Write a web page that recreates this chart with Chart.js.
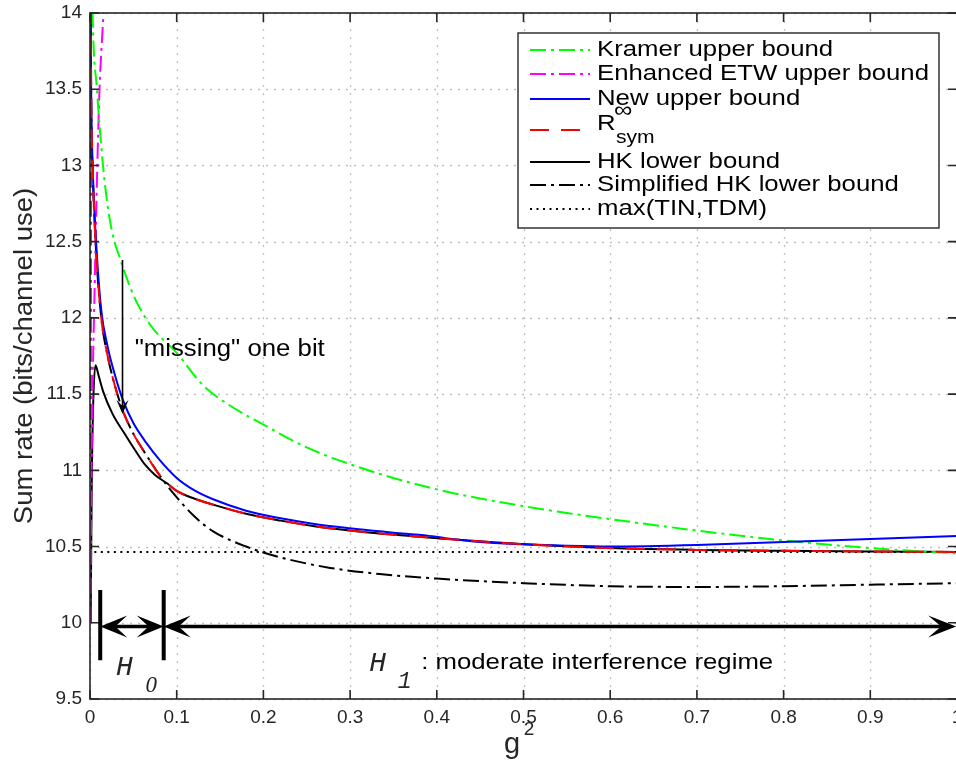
<!DOCTYPE html>
<html lang="en">
<head>
<meta charset="UTF-8">
<title>Sum rate bounds</title>
<script src="https://cdn.jsdelivr.net/npm/chart.js"></script>
<style>
  html, body { margin: 0; padding: 0; background: #fff; overflow: hidden; }
  #wrap { width: 956px; height: 763px; overflow: hidden; }
</style>
</head>
<body>
<div id="wrap"><canvas id="rateChart" width="980" height="763"></canvas></div>
<script>
// axis ticks
const xTicks = [0, 0.1, 0.2, 0.3, 0.4, 0.5, 0.6, 0.7, 0.8, 0.9, 1];
const xTickLabels = ["0", "0.1", "0.2", "0.3", "0.4", "0.5", "0.6", "0.7", "0.8", "0.9", "1"];
const yTicks = [9.5, 10, 10.5, 11, 11.5, 12, 12.5, 13, 13.5, 14];
const yTickLabels = ["9.5", "10", "10.5", "11", "11.5", "12", "12.5", "13", "13.5", "14"];

// Kramer upper bound
const kramerX = [0.0025, 0.003, 0.008, 0.015, 0.02, 0.026, 0.034, 0.05, 0.07, 0.1, 0.13, 0.16, 0.2, 0.25, 0.3, 0.35, 0.4, 0.45, 0.5, 0.55, 0.6, 0.7, 0.8, 0.9, 1.0];
const kramerY = [14.2, 14.0, 13.5, 13.0, 12.75, 12.55, 12.4, 12.15, 11.95, 11.77, 11.56, 11.43, 11.3, 11.15, 11.04, 10.95, 10.875, 10.815, 10.765, 10.72, 10.68, 10.605, 10.54, 10.49, 10.455];

// Enhanced ETW upper bound
const etwX = [0.0005, 0.001, 0.002, 0.003, 0.005, 0.008, 0.011, 0.0155, 0.017];
const etwY = [10.0, 10.5, 11.1, 11.55, 12.1, 12.9, 13.5, 14.0, 14.2];

// New upper bound
const newX = [0.0005, 0.0014, 0.003, 0.007, 0.013, 0.02, 0.028, 0.038, 0.05, 0.065, 0.08, 0.1, 0.12, 0.142, 0.18, 0.22, 0.257, 0.3, 0.334, 0.36, 0.385, 0.41, 0.45, 0.5, 0.55, 0.6, 0.7, 0.8, 0.9, 1.0];
const newY = [14.05, 13.45, 13.0, 12.5, 12.05, 11.82, 11.64, 11.46, 11.31, 11.18, 11.07, 10.95, 10.87, 10.81, 10.735, 10.685, 10.65, 10.62, 10.6, 10.585, 10.575, 10.555, 10.53, 10.515, 10.505, 10.5, 10.51, 10.53, 10.55, 10.57];

// R_sym^inf
const rsymX = [0.0005, 0.0014, 0.003, 0.007, 0.013, 0.02, 0.028, 0.038, 0.05, 0.065, 0.08, 0.09, 0.1, 0.12, 0.142, 0.18, 0.22, 0.257, 0.3, 0.334, 0.4, 0.5, 0.6, 0.7, 0.8, 0.9, 1.0];
const rsymY = [14.05, 13.43, 12.99, 12.44, 12.0, 11.76, 11.57, 11.39, 11.24, 11.1, 10.97, 10.91, 10.865, 10.815, 10.775, 10.715, 10.67, 10.635, 10.605, 10.585, 10.555, 10.515, 10.49, 10.478, 10.472, 10.468, 10.465];

// HK lower bound
const hkX = [0.0008, 0.002, 0.0035, 0.0063, 0.01, 0.015, 0.026, 0.04, 0.05, 0.063, 0.075, 0.09, 0.1, 0.12, 0.142, 0.18, 0.22, 0.257, 0.3, 0.334, 0.4, 0.5, 0.6, 0.7, 0.8, 0.9, 1.0];
const hkY = [10.0, 10.9, 11.4, 11.69, 11.62, 11.52, 11.37, 11.24, 11.15, 11.04, 10.97, 10.91, 10.865, 10.815, 10.775, 10.715, 10.67, 10.635, 10.605, 10.585, 10.555, 10.515, 10.49, 10.478, 10.472, 10.468, 10.465];

// Simplified HK lower bound
const shkX = [0.0005, 0.0009, 0.0014, 0.003, 0.007, 0.013, 0.02, 0.028, 0.038, 0.05, 0.065, 0.08, 0.096, 0.12, 0.142, 0.18, 0.219, 0.277, 0.334, 0.4, 0.5, 0.6, 0.7, 0.8, 0.9, 1.0];
const shkY = [10.0, 14.1, 13.43, 12.99, 12.44, 12.0, 11.76, 11.57, 11.39, 11.24, 11.1, 10.97, 10.85, 10.7, 10.6, 10.5, 10.43, 10.36, 10.32, 10.29, 10.26, 10.24, 10.235, 10.24, 10.25, 10.26];

// max(TIN,TDM)
const tinX = [0.005, 1.0];
const tinY = [10.465, 10.465];

const toPoints = (xs, ys) => xs.map((x, i) => ({ x: x, y: ys[i] }));

const FONT = "'Liberation Sans', Arial, Helvetica, sans-serif";
const MONO = "'Liberation Mono', 'DejaVu Sans Mono', monospace";
const SERIF = "'Liberation Serif', 'DejaVu Serif', serif";

function stretchText(ctx, str, x, y, size, sx, align) {
  ctx.save();
  ctx.font = size + "px " + FONT;
  ctx.translate(x, y);
  ctx.scale(sx, 1);
  ctx.textAlign = align || "left";
  ctx.fillText(str, 0, 0);
  ctx.restore();
}

// filled arrow head (matlab style, with a notch at the back)
function arrowHead(ctx, tx, ty, dx, dy, len, half, notch) {
  const nx = -dy, ny = dx;
  ctx.beginPath();
  ctx.moveTo(tx, ty);
  ctx.lineTo(tx - dx * len + nx * half, ty - dy * len + ny * half);
  ctx.lineTo(tx - dx * notch, ty - dy * notch);
  ctx.lineTo(tx - dx * len - nx * half, ty - dy * len - ny * half);
  ctx.closePath();
  ctx.fill();
}

const legendItems = [
  { label: "Kramer upper bound", color: "#00ff00", dash: [16, 5, 3, 5], y: 50 },
  { label: "Enhanced ETW upper bound", color: "#ff00ff", dash: [16, 5, 3, 5], y: 74 },
  { label: "New upper bound", color: "#0000ff", dash: [], y: 99 },
  { label: "R", color: "#ff0000", dash: [19, 12], y: 130, rsym: true },
  { label: "HK lower bound", color: "#000000", dash: [], y: 162 },
  { label: "Simplified HK lower bound", color: "#000000", dash: [16, 5, 3, 5], y: 185 },
  { label: "max(TIN,TDM)", color: "#000000", dash: [2, 4.5], y: 209 }
];

const framePlugin = {
  id: "matlabFrame",
  beforeDatasetsDraw(chart) {
    const { ctx, chartArea: a, scales: { x, y } } = chart;
    ctx.save();
    ctx.strokeStyle = "rgba(0,0,0,0.25)";
    ctx.lineWidth = 1.3;
    ctx.setLineDash([2, 6]);
    xTicks.forEach(v => {
      const px = Math.round(x.getPixelForValue(v)) + 0.5;
      ctx.beginPath(); ctx.moveTo(px, a.top); ctx.lineTo(px, a.bottom); ctx.stroke();
    });
    yTicks.forEach(v => {
      const py = Math.round(y.getPixelForValue(v)) + 0.5;
      ctx.beginPath(); ctx.moveTo(a.left, py); ctx.lineTo(a.right, py); ctx.stroke();
    });
    ctx.restore();
  },
  afterDatasetsDraw(chart) {
    const { ctx, chartArea: a, scales: { x, y } } = chart;
    ctx.save();

    // box and inward ticks
    ctx.strokeStyle = "#262626";
    ctx.lineWidth = 1.6;
    ctx.setLineDash([]);
    ctx.strokeRect(a.left, a.top, a.right - a.left, a.bottom - a.top);
    const tl = 9;
    xTicks.forEach(v => {
      const px = x.getPixelForValue(v);
      ctx.beginPath();
      ctx.moveTo(px, a.bottom); ctx.lineTo(px, a.bottom - tl);
      ctx.moveTo(px, a.top); ctx.lineTo(px, a.top + tl);
      ctx.stroke();
    });
    yTicks.forEach(v => {
      const py = y.getPixelForValue(v);
      ctx.beginPath();
      ctx.moveTo(a.left, py); ctx.lineTo(a.left + tl, py);
      ctx.moveTo(a.right, py); ctx.lineTo(a.right - tl, py);
      ctx.stroke();
    });

    // tick labels
    ctx.fillStyle = "#262626";
    ctx.font = "19px " + FONT;
    ctx.textAlign = "center";
    ctx.textBaseline = "middle";
    xTicks.forEach((v, i) => ctx.fillText(xTickLabels[i], x.getPixelForValue(v), a.bottom + 19));
    ctx.textAlign = "right";
    yTicks.forEach((v, i) => ctx.fillText(yTickLabels[i], a.left - 8, y.getPixelForValue(v)));

    // axis titles
    ctx.fillStyle = "#262626";
    ctx.textBaseline = "alphabetic";
    ctx.font = "29px " + FONT;
    ctx.textAlign = "center";
    ctx.fillText("g", 512, 753);
    ctx.font = "19px " + FONT;
    ctx.fillText("2", 529, 735);
    ctx.save();
    ctx.translate(32, 356);
    ctx.rotate(-Math.PI / 2);
    ctx.scale(1.1, 1);
    ctx.font = "25px " + FONT;
    ctx.textAlign = "center";
    ctx.fillText("Sum rate (bits/channel use)", 0, 0);
    ctx.restore();

    // "missing" one bit arrow
    ctx.fillStyle = "#000";
    ctx.strokeStyle = "#000";
    const mx = x.getPixelForValue(0.0375);
    const mTop = y.getPixelForValue(12.38);
    const mTip = y.getPixelForValue(11.37);
    ctx.lineWidth = 1.6;
    ctx.beginPath(); ctx.moveTo(mx, mTop); ctx.lineTo(mx, mTip - 6); ctx.stroke();
    arrowHead(ctx, mx, mTip, 0, 1, 14, 6, 8);
    ctx.textBaseline = "alphabetic";
    stretchText(ctx, "\"missing\" one bit", x.getPixelForValue(0.0515), y.getPixelForValue(11.75), 23, 1.12, "left");

    // H0 / H1 regime arrows
    const yArr = y.getPixelForValue(9.975);
    const b0 = x.getPixelForValue(0.0118);
    const b1 = x.getPixelForValue(0.085);
    const bEnd = x.getPixelForValue(0.999);
    const bTop = y.getPixelForValue(10.215);
    const bBot = y.getPixelForValue(9.755);
    ctx.lineWidth = 4;
    ctx.beginPath();
    ctx.moveTo(b0, bTop); ctx.lineTo(b0, bBot);
    ctx.moveTo(b1, bTop); ctx.lineTo(b1, bBot);
    ctx.stroke();
    ctx.lineWidth = 3.5;
    ctx.beginPath();
    ctx.moveTo(b0 + 10, yArr); ctx.lineTo(b1 - 10, yArr);
    ctx.moveTo(b1 + 10, yArr); ctx.lineTo(bEnd - 10, yArr);
    ctx.stroke();
    arrowHead(ctx, b0, yArr, -1, 0, 27, 11, 15);
    arrowHead(ctx, b1, yArr, 1, 0, 27, 11, 15);
    arrowHead(ctx, b1, yArr, -1, 0, 27, 11, 15);
    arrowHead(ctx, bEnd, yArr, 1, 0, 28, 11, 15);

    ctx.fillStyle = "#262626";
    ctx.font = "italic 28px " + MONO;
    ctx.textAlign = "left";
    ctx.fillText("H", x.getPixelForValue(0.03), y.getPixelForValue(9.66));
    ctx.fillText("H", x.getPixelForValue(0.322), y.getPixelForValue(9.685));
    ctx.font = "italic 23px " + SERIF;
    ctx.fillText("0", x.getPixelForValue(0.064), y.getPixelForValue(9.545));
    ctx.font = "italic 23px " + MONO;
    ctx.fillText("1", x.getPixelForValue(0.355), y.getPixelForValue(9.57));
    ctx.fillStyle = "#000";
    stretchText(ctx, ": moderate interference regime", x.getPixelForValue(0.382), y.getPixelForValue(9.7), 22, 1.17, "left");

    // legend
    const lx = 518, ly = 33, lw = 421, lh = 195;
    ctx.fillStyle = "#fff";
    ctx.fillRect(lx, ly, lw, lh);
    ctx.strokeStyle = "#262626";
    ctx.lineWidth = 1.4;
    ctx.setLineDash([]);
    ctx.strokeRect(lx, ly, lw, lh);
    legendItems.forEach(it => {
      ctx.strokeStyle = it.color;
      ctx.lineWidth = 2;
      ctx.setLineDash(it.dash);
      ctx.beginPath(); ctx.moveTo(530, it.y); ctx.lineTo(590, it.y); ctx.stroke();
      ctx.setLineDash([]);
      ctx.fillStyle = "#000";
      ctx.textBaseline = "middle";
      if (it.rsym) {
        stretchText(ctx, "R", 597, 124, 22, 1.17, "left");
        stretchText(ctx, "\u221E", 614, 111, 22, 1.17, "left");
        stretchText(ctx, "sym", 616, 138, 18, 1.17, "left");
      } else {
        stretchText(ctx, it.label, 597, it.y, 22, 1.17, "left");
      }
    });
    ctx.restore();
  }
};

const lineDs = (label, xs, ys, color, dash, order, width) => ({
  label: label,
  data: toPoints(xs, ys),
  borderColor: color,
  borderWidth: width || 2,
  borderDash: dash,
  pointRadius: 0,
  fill: false,
  cubicInterpolationMode: "monotone",
  order: order
});

new Chart(document.getElementById("rateChart"), {
  type: "line",
  data: {
    datasets: [
      lineDs("Kramer upper bound", kramerX, kramerY, "#00ff00", [16, 5, 3, 5], 3),
      lineDs("Enhanced ETW upper bound", etwX, etwY, "#ff00ff", [16, 5, 3, 5], 4),
      lineDs("New upper bound", newX, newY, "#0000ff", [], 2),
      lineDs("R_sym", rsymX, rsymY, "#ff0000", [19, 12], 1),
      lineDs("HK lower bound", hkX, hkY, "#000000", [], 5),
      lineDs("Simplified HK lower bound", shkX, shkY, "#000000", [16, 5, 3, 5], 6),
      lineDs("max(TIN,TDM)", tinX, tinY, "#000000", [2, 4.5], 7)
    ]
  },
  options: {
    responsive: false,
    animation: false,
    devicePixelRatio: 1,
    layout: { padding: { left: 90, top: 13, right: 23, bottom: 64 } },
    plugins: { legend: { display: false }, tooltip: { enabled: false } },
    scales: {
      x: { type: "linear", display: false, min: 0, max: 1 },
      y: { type: "linear", display: false, min: 9.5, max: 14 }
    }
  },
  plugins: [framePlugin]
});
</script>
</body>
</html>
